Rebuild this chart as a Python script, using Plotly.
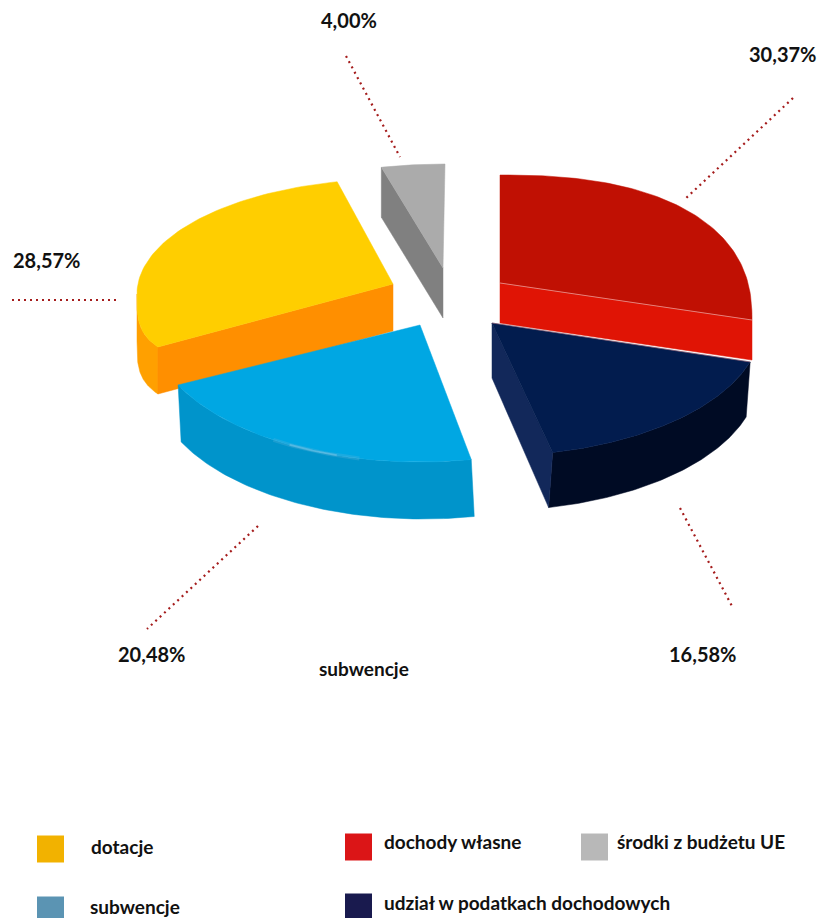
import math
import plotly.graph_objects as go

# ---- data ----
categories = ["dochody własne", "udział w podatkach dochodowych", "subwencje", "dotacje", "środki z budżetu UE"]
shares = [30.37, 16.58, 20.48, 28.57, 4.00]
chart_label = "subwencje"
legend_names = ["dotacje", "subwencje", "dochody własne", "udział w podatkach dochodowych", "środki z budżetu UE"]
legend_colors = ["#F2B200", "#5B94B3", "#DB1517", "#191A4E", "#B8B8B8"]

# ---- styling / projection of the exploded tilted pie ----
W, H = 821, 918
FONT = "Lato"
styles = {
    "dochody własne": dict(apex=(500, 283), off=(0, 37), rx=252, up=145, down=145, n=2.4, nd=2.4, d0=0, d1=-19.33,
                           depth=40, top="#C01003", wall=None, cut="end", cutc="#E01405", dx=0),
    "udział w podatkach dochodowych": dict(apex=(492, 323), off=(0, 0), rx=270, up=133, down=133, n=2, nd=2, d0=-2.3, d1=-2,
                           depth=55, top="#021C4E", wall="#000B24", cut="end", cutc="#12285A", dx=-4),
    "subwencje": dict(apex=(420, 325), off=(0, 0), rx=269, up=137, down=137, n=2, nd=2, d0=0, d1=1.3,
                      depth=57, top="#00A7E3", wall="#0094CB", cut=None, cutc=None, dx=3),
    "dotacje": dict(apex=(393, 284), off=(0, 10), rx=256, up=115, down=78, n=2, nd=3.5, d0=-3.3, d1=1.8,
                    depth=47, top="#FFCE00", wall="#FFA000", cut="start", cutc="#FF8F00", wall_to=270, dx=0),
    "środki z budżetu UE": dict(apex=(443, 268), off=(2, 0), rx=256, up=104, down=104, n=2, nd=2, d0=0, d1=0,
                                depth=50, top="#ABABAB", wall=None, cut="start", cutc="#808080", dx=0),
}
draw_order = ["dochody własne", "dotacje", "środki z budżetu UE", "udział w podatkach dochodowych", "subwencje"]
leaders = [((793, 98), (684, 200)), ((680, 508), (733, 608)), ((258, 526), (147, 629)),
           ((12, 300), (116, 300)), ((346, 56), (400, 157))]
label_pos = [(782, 54), (702, 654), (151, 654), (46, 260), (349, 20)]
legend_pos = [(50.5, 849, 89, 846), (50.5, 910, 88, 906), (358.5, 847, 382, 841),
              (358.5, 907, 382, 902), (594.5, 847, 615, 841)]


def pt(s, deg):
    a = math.radians(deg)
    sn, cs = math.sin(a), math.cos(a)
    e = 2 / (s["n"] if cs > 0 else s["nd"])
    cx, cy = s["apex"][0] + s["off"][0], s["apex"][1] + s["off"][1]
    x = cx + s["rx"] * math.copysign(abs(sn) ** e, sn)
    y = cy - (s["up"] if cs > 0 else s["down"]) * math.copysign(abs(cs) ** e, cs)
    return x, y


def arc(s, a, b, k=80):
    return [pt(s, a + (b - a) * i / k) for i in range(k + 1)]


fig = go.Figure()


def poly(points, color):
    fig.add_trace(go.Scatter(x=[p[0] for p in points] + [points[0][0]], y=[p[1] for p in points] + [points[0][1]],
                             mode="lines", fill="toself", fillcolor=color, line=dict(color=color, width=0.5),
                             hoverinfo="skip", showlegend=False))


def stroke(points, color, width=1.0, dash=None):
    fig.add_trace(go.Scatter(x=[p[0] for p in points], y=[p[1] for p in points], mode="lines",
                             line=dict(color=color, width=width, dash=dash), hoverinfo="skip", showlegend=False))


spans = {}
c = 0.0
for name, v in zip(categories, shares):
    spans[name] = (c * 3.6, (c + v) * 3.6)
    c += v

for name in draw_order:
    s = styles[name]
    a0 = spans[name][0] + s["d0"]
    a1 = spans[name][1] + s["d1"]
    d = s["depth"]
    dx = s["dx"]
    if s["wall"]:
        w1 = s.get("wall_to", a1)
        rim = arc(s, a0, w1)
        poly(rim + [(x + dx, y + d) for x, y in reversed(rim)], s["wall"])
    if s["cut"]:
        e = pt(s, a1 if s["cut"] == "end" else a0)
        ap = s["apex"]
        poly([ap, e, (e[0] + dx, e[1] + d), (ap[0], ap[1] + d)], s["cutc"])
    poly([s["apex"]] + arc(s, a0, a1), s["top"])
    if name == "dochody własne":
        stroke([s["apex"], pt(s, a1)], "#E8807A", 1.0)
    if name == "udział w podatkach dochodowych":
        stroke([s["apex"], pt(s, a0)], "rgba(200,110,120,0.45)", 1.0)
    if name == "subwencje":
        stroke(arc(s, a0 + 24, a0 + 44, 20), "rgba(90,180,220,0.30)", 4.0)
        stroke(arc(s, a0 + 29, a0 + 40, 20), "rgba(120,195,228,0.55)", 2.0)

for (p, q) in leaders:
    stroke([p, q], "#A51C1C", 2.2, "2px,4px")

fig.add_trace(go.Scatter(x=[p[0] for p in legend_pos], y=[p[1] for p in legend_pos], mode="markers",
                         marker=dict(symbol="square", size=27, color=legend_colors, line=dict(width=0)),
                         hoverinfo="skip", showlegend=False))

ann = []
for name, v, (x, y) in zip(categories, shares, label_pos):
    ann.append(dict(x=x, y=y, text=f"{v:.2f}%".replace(".", ","), showarrow=False, xanchor="center", yanchor="middle",
                    font=dict(family=FONT, size=20, color="#111111", weight="bold")))
ann.append(dict(x=364, y=668, text=chart_label, showarrow=False, xanchor="center", yanchor="middle",
                font=dict(family=FONT, size=19, color="#111111", weight="bold")))
for t, p in zip(legend_names, legend_pos):
    ann.append(dict(x=p[2], y=p[3], text=t, showarrow=False, xanchor="left", yanchor="middle",
                    font=dict(family=FONT, size=19, color="#111111", weight="bold")))

fig.update_layout(
    width=W, height=H, autosize=False, margin=dict(l=0, r=0, t=0, b=0),
    paper_bgcolor="white", plot_bgcolor="white", annotations=ann, showlegend=False,
    xaxis=dict(range=[0, W], visible=False, fixedrange=True),
    yaxis=dict(range=[H, 0], visible=False, fixedrange=True),
)
fig.write_html("out.html", config=dict(displayModeBar=False),
               post_script="document.body.style.margin='0';document.documentElement.style.overflow='hidden';")
